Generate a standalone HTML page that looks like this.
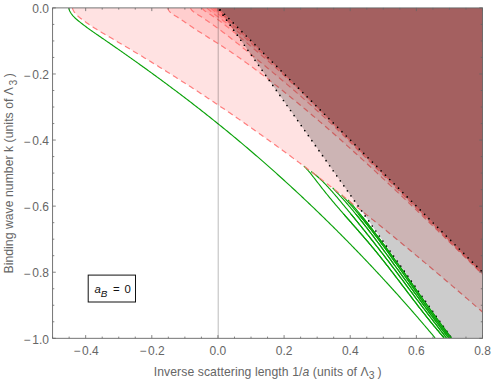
<!DOCTYPE html>
<html><head><meta charset="utf-8"><style>html,body{margin:0;padding:0;background:#fff;width:492px;height:382px;overflow:hidden}svg{display:block}svg text{font-family:"Liberation Sans",sans-serif}</style></head><body>
<svg width="492" height="382" viewBox="0 0 492 382">
<rect width="492" height="382" fill="#fff"/>
<defs><clipPath id="c"><rect x="52.60" y="7.90" width="429.90" height="330.40"/></clipPath></defs>
<g clip-path="url(#c)">
<path d="M72.39 8.05 L72.90 9.49 L73.55 10.83 L74.32 12.09 L75.21 13.27 L76.19 14.39 L77.24 15.46 L78.36 16.47 L79.53 17.46 L80.73 18.41 L81.94 19.34 L83.16 20.26 L84.38 21.16 L85.62 22.06 L86.86 22.93 L88.11 23.80 L89.36 24.66 L90.62 25.50 L91.89 26.34 L93.16 27.16 L94.43 27.98 L95.71 28.79 L96.99 29.59 L98.28 30.38 L99.57 31.17 L100.86 31.95 L102.16 32.73 L103.46 33.50 L104.76 34.27 L106.06 35.04 L107.36 35.80 L108.67 36.57 L109.97 37.33 L111.28 38.09 L112.58 38.85 L113.89 39.61 L115.19 40.37 L116.49 41.14 L117.80 41.90 L119.10 42.67 L120.40 43.43 L121.70 44.20 L123.00 44.97 L124.30 45.74 L125.60 46.51 L126.90 47.28 L128.20 48.05 L129.50 48.83 L130.80 49.60 L132.09 50.38 L133.39 51.15 L134.69 51.93 L135.98 52.71 L137.28 53.49 L138.57 54.27 L139.86 55.05 L141.16 55.83 L142.45 56.61 L143.74 57.40 L145.03 58.18 L146.32 58.97 L147.61 59.76 L148.90 60.54 L150.19 61.33 L151.48 62.12 L152.77 62.92 L154.06 63.71 L155.34 64.50 L156.63 65.29 L157.91 66.09 L159.20 66.89 L160.48 67.68 L161.77 68.48 L163.05 69.28 L164.33 70.08 L165.61 70.88 L166.89 71.68 L168.17 72.49 L169.45 73.29 L170.73 74.10 L172.01 74.90 L173.29 75.71 L174.57 76.52 L175.84 77.33 L177.12 78.14 L178.39 78.95 L179.67 79.76 L180.94 80.58 L182.22 81.39 L183.49 82.21 L184.76 83.02 L186.03 83.84 L187.30 84.66 L188.57 85.48 L189.84 86.30 L191.11 87.12 L192.38 87.95 L193.64 88.77 L194.91 89.59 L196.18 90.42 L197.44 91.25 L198.71 92.08 L199.97 92.91 L201.23 93.74 L202.49 94.57 L203.76 95.40 L205.02 96.23 L206.28 97.07 L207.54 97.90 L208.79 98.74 L210.05 99.58 L211.31 100.41 L212.57 101.25 L213.82 102.10 L215.08 102.94 L216.33 103.78 L217.58 104.62 L218.84 105.47 L220.09 106.31 L221.34 107.16 L222.59 108.01 L223.84 108.86 L225.09 109.71 L226.34 110.56 L227.59 111.41 L228.84 112.26 L230.08 113.11 L231.33 113.97 L232.58 114.82 L233.82 115.68 L235.06 116.54 L236.31 117.40 L237.55 118.26 L238.79 119.12 L240.04 119.98 L241.28 120.84 L242.52 121.70 L243.76 122.57 L244.99 123.43 L246.23 124.30 L247.47 125.17 L248.71 126.04 L249.94 126.90 L251.18 127.77 L252.41 128.64 L253.65 129.52 L254.88 130.39 L256.12 131.26 L257.35 132.14 L258.58 133.01 L259.81 133.89 L261.04 134.77 L262.27 135.64 L263.50 136.52 L264.73 137.40 L265.96 138.28 L267.18 139.17 L268.41 140.05 L269.64 140.93 L270.86 141.82 L272.09 142.70 L273.31 143.59 L274.53 144.47 L275.76 145.36 L276.98 146.25 L278.20 147.14 L279.42 148.03 L280.64 148.92 L281.86 149.81 L283.08 150.71 L284.30 151.60 L285.52 152.50 L286.74 153.39 L287.95 154.29 L289.17 155.18 L290.38 156.08 L291.60 156.98 L292.81 157.88 L294.03 158.78 L295.24 159.68 L296.45 160.58 L297.67 161.49 L298.88 162.39 L300.09 163.30 L301.30 164.20 L302.51 165.11 L303.72 166.01 L304.93 166.92 L306.13 167.83 L307.34 168.74 L308.55 169.65 L309.75 170.56 L310.96 171.47 L312.17 172.38 L313.37 173.30 L314.57 174.21 L315.78 175.13 L316.98 176.04 L318.18 176.96 L319.38 177.88 L320.58 178.79 L321.79 179.71 L322.99 180.63 L324.18 181.55 L325.38 182.47 L326.58 183.39 L327.78 184.32 L328.98 185.24 L330.17 186.16 L331.37 187.09 L332.56 188.01 L333.76 188.94 L334.95 189.86 L336.15 190.79 L337.34 191.72 L338.53 192.65 L339.73 193.58 L340.92 194.51 L342.11 195.44 L343.30 196.37 L344.49 197.30 L345.68 198.23 L346.87 199.17 L348.06 200.10 L349.25 201.04 L350.43 201.97 L351.62 202.91 L352.81 203.85 L353.99 204.78 L355.18 205.72 L356.36 206.66 L357.55 207.60 L358.73 208.54 L359.92 209.48 L361.10 210.42 L362.28 211.37 L363.46 212.31 L364.64 213.25 L365.82 214.20 L367.01 215.14 L368.19 216.09 L369.36 217.03 L370.54 217.98 L371.72 218.93 L372.90 219.87 L374.08 220.82 L375.25 221.77 L376.43 222.72 L377.61 223.67 L378.78 224.62 L379.96 225.57 L381.13 226.53 L382.31 227.48 L383.48 228.43 L384.65 229.39 L385.82 230.34 L387.00 231.30 L388.17 232.25 L389.34 233.21 L390.51 234.16 L391.68 235.12 L392.85 236.08 L394.02 237.04 L395.19 238.00 L396.36 238.96 L397.52 239.92 L398.69 240.88 L399.86 241.84 L401.02 242.80 L402.19 243.76 L403.36 244.72 L404.52 245.69 L405.69 246.65 L406.85 247.62 L408.01 248.58 L409.18 249.55 L410.34 250.51 L411.50 251.48 L412.66 252.45 L413.83 253.41 L414.99 254.38 L416.15 255.35 L417.31 256.32 L418.47 257.29 L419.63 258.26 L420.79 259.23 L421.94 260.20 L423.10 261.17 L424.26 262.14 L425.42 263.12 L426.57 264.09 L427.73 265.06 L428.89 266.04 L430.04 267.01 L431.20 267.99 L432.35 268.96 L433.51 269.94 L434.66 270.91 L435.81 271.89 L436.97 272.87 L438.12 273.84 L439.27 274.82 L440.42 275.80 L441.58 276.78 L442.73 277.76 L443.88 278.74 L445.03 279.72 L446.18 280.70 L447.33 281.68 L448.48 282.66 L449.62 283.64 L450.77 284.62 L451.92 285.61 L453.07 286.59 L454.21 287.57 L455.36 288.56 L456.51 289.54 L457.65 290.53 L458.80 291.51 L459.94 292.50 L461.09 293.48 L462.23 294.47 L463.38 295.45 L464.52 296.44 L465.66 297.43 L466.81 298.42 L467.95 299.40 L469.09 300.39 L470.23 301.38 L471.38 302.37 L472.52 303.36 L473.66 304.35 L474.80 305.34 L475.94 306.33 L477.08 307.32 L478.22 308.31 L479.36 309.30 L480.50 310.29 L481.63 311.29 L482.77 312.28 L484.50 5.90 L72.50 5.90 Z" fill="rgb(255,0,0)" fill-opacity="0.113"/>
<path d="M167.69 8.09 L168.22 9.52 L168.96 10.78 L169.88 11.91 L170.93 12.91 L172.11 13.83 L173.36 14.68 L174.67 15.49 L175.99 16.29 L177.31 17.10 L178.62 17.91 L179.91 18.75 L181.20 19.59 L182.47 20.44 L183.73 21.29 L184.99 22.16 L186.24 23.02 L187.49 23.89 L188.74 24.75 L189.99 25.61 L191.24 26.47 L192.50 27.32 L193.76 28.16 L195.02 28.99 L196.29 29.82 L197.56 30.65 L198.83 31.47 L200.11 32.28 L201.39 33.10 L202.66 33.91 L203.95 34.71 L205.23 35.52 L206.51 36.32 L207.79 37.12 L209.08 37.92 L210.36 38.72 L211.65 39.52 L212.93 40.32 L214.21 41.12 L215.49 41.93 L216.77 42.74 L218.04 43.55 L219.32 44.36 L220.59 45.18 L221.86 46.00 L223.13 46.83 L224.39 47.66 L225.65 48.49 L226.91 49.32 L228.17 50.16 L229.43 51.00 L230.68 51.85 L231.93 52.70 L233.18 53.55 L234.43 54.41 L235.67 55.27 L236.92 56.13 L238.16 56.99 L239.40 57.86 L240.63 58.73 L241.87 59.61 L243.10 60.48 L244.33 61.36 L245.56 62.24 L246.79 63.13 L248.01 64.02 L249.23 64.91 L250.46 65.80 L251.68 66.70 L252.89 67.60 L254.11 68.50 L255.32 69.40 L256.54 70.31 L257.75 71.22 L258.96 72.13 L260.16 73.04 L261.37 73.96 L262.57 74.87 L263.78 75.79 L264.98 76.72 L266.18 77.64 L267.37 78.57 L268.57 79.49 L269.77 80.43 L270.96 81.36 L272.15 82.29 L273.34 83.23 L274.53 84.17 L275.72 85.11 L276.91 86.05 L278.09 86.99 L279.28 87.94 L280.46 88.88 L281.64 89.83 L282.82 90.78 L284.00 91.73 L285.18 92.69 L286.36 93.64 L287.53 94.60 L288.71 95.55 L289.88 96.51 L291.05 97.47 L292.22 98.43 L293.39 99.39 L294.56 100.36 L295.73 101.32 L296.90 102.29 L298.07 103.25 L299.23 104.22 L300.40 105.19 L301.56 106.16 L302.72 107.13 L303.88 108.11 L305.04 109.08 L306.20 110.06 L307.36 111.03 L308.52 112.01 L309.67 112.99 L310.83 113.97 L311.99 114.95 L313.14 115.93 L314.29 116.91 L315.44 117.90 L316.59 118.88 L317.74 119.87 L318.89 120.86 L320.04 121.85 L321.19 122.83 L322.34 123.83 L323.48 124.82 L324.63 125.81 L325.77 126.80 L326.91 127.80 L328.06 128.79 L329.20 129.79 L330.34 130.79 L331.48 131.78 L332.62 132.78 L333.75 133.78 L334.89 134.79 L336.03 135.79 L337.16 136.79 L338.30 137.80 L339.43 138.80 L340.57 139.81 L341.70 140.81 L342.83 141.82 L343.96 142.83 L345.09 143.84 L346.22 144.85 L347.35 145.86 L348.48 146.87 L349.61 147.89 L350.73 148.90 L351.86 149.91 L352.98 150.93 L354.11 151.95 L355.23 152.96 L356.35 153.98 L357.48 155.00 L358.60 156.02 L359.72 157.04 L360.84 158.06 L361.96 159.08 L363.08 160.10 L364.20 161.13 L365.31 162.15 L366.43 163.17 L367.55 164.20 L368.66 165.23 L369.78 166.25 L370.89 167.28 L372.01 168.31 L373.12 169.34 L374.23 170.36 L375.35 171.39 L376.46 172.43 L377.57 173.46 L378.68 174.49 L379.79 175.52 L380.90 176.55 L382.01 177.59 L383.12 178.62 L384.23 179.66 L385.33 180.69 L386.44 181.73 L387.55 182.77 L388.65 183.80 L389.76 184.84 L390.86 185.88 L391.97 186.92 L393.07 187.96 L394.17 189.00 L395.28 190.04 L396.38 191.08 L397.48 192.12 L398.58 193.16 L399.68 194.20 L400.78 195.25 L401.88 196.29 L402.98 197.33 L404.08 198.38 L405.18 199.42 L406.28 200.47 L407.38 201.51 L408.48 202.56 L409.58 203.60 L410.67 204.65 L411.77 205.70 L412.87 206.74 L413.96 207.79 L415.06 208.84 L416.15 209.89 L417.25 210.94 L418.34 211.99 L419.44 213.04 L420.53 214.09 L421.62 215.14 L422.72 216.19 L423.81 217.24 L424.90 218.29 L426.00 219.34 L427.09 220.39 L428.18 221.44 L429.27 222.49 L430.36 223.55 L431.45 224.60 L432.54 225.65 L433.63 226.70 L434.73 227.76 L435.82 228.81 L436.91 229.86 L437.99 230.92 L439.08 231.97 L440.17 233.03 L441.26 234.08 L442.35 235.13 L443.44 236.19 L444.53 237.24 L445.62 238.30 L446.71 239.35 L447.79 240.41 L448.88 241.46 L449.97 242.52 L451.06 243.57 L452.14 244.63 L453.23 245.68 L454.32 246.74 L455.41 247.80 L456.49 248.85 L457.58 249.91 L458.67 250.96 L459.75 252.02 L460.84 253.07 L461.93 254.13 L463.01 255.19 L464.10 256.24 L465.18 257.30 L466.27 258.35 L467.36 259.41 L468.44 260.47 L469.53 261.52 L470.62 262.58 L471.70 263.63 L472.79 264.69 L473.87 265.74 L474.96 266.80 L476.05 267.85 L477.13 268.91 L478.22 269.96 L479.30 271.02 L480.39 272.07 L481.48 273.13 L482.56 274.18 L483.65 275.24 L484.50 5.90 L167.80 5.90 Z" fill="rgb(255,0,0)" fill-opacity="0.085"/>
<path d="M190.50 8.09 L191.18 9.42 L192.10 10.55 L193.19 11.54 L194.41 12.42 L195.69 13.25 L196.99 14.07 L198.29 14.89 L199.58 15.72 L200.87 16.56 L202.16 17.40 L203.43 18.25 L204.71 19.10 L205.98 19.96 L207.25 20.82 L208.51 21.69 L209.76 22.56 L211.02 23.43 L212.27 24.32 L213.51 25.20 L214.75 26.09 L215.99 26.98 L217.22 27.88 L218.45 28.78 L219.68 29.69 L220.90 30.60 L222.12 31.51 L223.34 32.42 L224.55 33.34 L225.76 34.26 L226.97 35.19 L228.18 36.12 L229.38 37.05 L230.58 37.98 L231.78 38.92 L232.98 39.86 L234.17 40.80 L235.36 41.74 L236.55 42.69 L237.74 43.64 L238.93 44.59 L240.11 45.54 L241.30 46.50 L242.48 47.45 L243.66 48.41 L244.84 49.37 L246.02 50.33 L247.20 51.29 L248.37 52.25 L249.55 53.22 L250.73 54.18 L251.90 55.15 L253.08 56.11 L254.25 57.08 L255.43 58.05 L256.60 59.01 L257.78 59.98 L258.95 60.95 L260.13 61.92 L261.30 62.89 L262.48 63.86 L263.65 64.83 L264.82 65.80 L266.00 66.77 L267.17 67.74 L268.34 68.72 L269.51 69.69 L270.69 70.67 L271.86 71.64 L273.03 72.62 L274.20 73.59 L275.37 74.57 L276.54 75.55 L277.71 76.53 L278.87 77.51 L280.04 78.49 L281.21 79.47 L282.37 80.45 L283.54 81.44 L284.70 82.42 L285.87 83.41 L287.03 84.40 L288.19 85.38 L289.35 86.37 L290.51 87.36 L291.67 88.35 L292.83 89.35 L293.99 90.34 L295.15 91.33 L296.30 92.33 L297.46 93.33 L298.61 94.32 L299.76 95.32 L300.91 96.32 L302.06 97.33 L303.21 98.33 L304.36 99.33 L305.51 100.34 L306.65 101.35 L307.79 102.36 L308.94 103.37 L310.08 104.38 L311.22 105.39 L312.36 106.41 L313.49 107.42 L314.63 108.44 L315.76 109.46 L316.89 110.48 L318.02 111.51 L319.15 112.53 L320.28 113.56 L321.41 114.59 L322.53 115.62 L323.65 116.65 L324.77 117.68 L325.89 118.72 L327.01 119.75 L328.12 120.79 L329.24 121.83 L330.35 122.87 L331.46 123.92 L332.56 124.96 L333.67 126.01 L334.77 127.06 L335.88 128.12 L336.97 129.17 L338.07 130.23 L339.17 131.28 L340.26 132.34 L341.35 133.41 L342.44 134.47 L343.53 135.54 L344.61 136.61 L345.69 137.68 L346.77 138.75 L347.85 139.83 L348.93 140.91 L350.00 141.99 L483.60 275.30 L484.50 5.90 L190.60 5.90 Z" fill="rgb(255,0,0)" fill-opacity="0.085"/>
<path d="M202.05 8.10 L202.97 9.23 L204.05 10.24 L205.22 11.16 L206.46 12.04 L207.74 12.89 L209.05 13.71 L210.36 14.54 L211.66 15.37 L212.95 16.22 L214.23 17.07 L215.50 17.94 L216.76 18.82 L218.01 19.71 L219.25 20.61 L220.48 21.51 L221.71 22.43 L222.92 23.35 L224.13 24.28 L225.33 25.22 L226.53 26.16 L227.72 27.11 L228.91 28.07 L230.09 29.02 L231.27 29.99 L232.45 30.95 L233.62 31.92 L234.79 32.89 L235.96 33.87 L237.13 34.84 L238.30 35.82 L239.47 36.80 L240.64 37.77 L241.81 38.75 L242.98 39.72 L244.15 40.70 L245.33 41.68 L246.50 42.66 L247.67 43.63 L248.85 44.61 L250.02 45.59 L251.19 46.57 L252.36 47.55 L253.53 48.53 L254.70 49.52 L255.87 50.50 L257.04 51.49 L258.21 52.48 L259.38 53.46 L260.54 54.46 L261.71 55.45 L262.87 56.44 L264.03 57.44 L265.19 58.44 L266.35 59.44 L267.50 60.44 L268.66 61.44 L269.81 62.45 L270.95 63.46 L272.10 64.47 L273.24 65.49 L274.38 66.51 L275.52 67.53 L276.65 68.56 L277.78 69.58 L278.91 70.62 L280.04 71.65 L281.16 72.69 L282.27 73.73 L283.39 74.78 L284.50 75.83 L285.60 76.88 L286.70 77.94 L287.80 79.00 L288.89 80.07 L289.98 81.14 L291.06 82.21 L292.14 83.29 L293.21 84.38 L294.28 85.47 L483.60 275.30 L484.50 5.90 L202.16 5.90 Z" fill="rgb(255,0,0)" fill-opacity="0.085"/>
<path d="M206.92 8.13 L208.04 9.12 L209.19 10.08 L210.36 11.03 L211.55 11.97 L212.75 12.91 L213.96 13.83 L215.19 14.75 L216.42 15.67 L217.65 16.59 L218.90 17.50 L220.15 18.41 L221.40 19.32 L222.65 20.23 L223.91 21.14 L225.17 22.06 L226.42 22.97 L227.67 23.89 L228.92 24.82 L230.17 25.75 L231.41 26.68 L232.64 27.62 L233.87 28.57 L235.08 29.53 L236.29 30.49 L237.50 31.46 L238.69 32.44 L239.88 33.42 L241.06 34.41 L242.24 35.40 L243.41 36.40 L244.58 37.41 L245.74 38.42 L246.89 39.43 L248.05 40.45 L249.19 41.48 L250.34 42.50 L251.48 43.54 L252.62 44.57 L253.75 45.61 L254.89 46.65 L256.02 47.69 L257.15 48.73 L258.28 49.78 L259.41 50.83 L260.53 51.88 L261.66 52.93 L262.79 53.98 L263.91 55.03 L265.04 56.09 L266.17 57.14 L267.30 58.19 L268.43 59.25 L269.56 60.30 L270.70 61.35 L483.60 275.30 L484.50 5.90 L207.08 5.90 Z" fill="rgb(255,0,0)" fill-opacity="0.085"/>
<path d="M210.58 8.12 L211.80 9.07 L213.04 10.03 L214.28 10.99 L215.52 11.94 L216.77 12.90 L218.02 13.86 L219.27 14.81 L220.53 15.77 L221.79 16.74 L223.05 17.70 L224.30 18.67 L225.56 19.64 L226.82 20.61 L228.08 21.59 L229.33 22.57 L230.58 23.56 L231.83 24.55 L233.07 25.55 L234.31 26.55 L235.54 27.56 L236.77 28.57 L237.99 29.59 L239.21 30.62 L240.41 31.66 L241.61 32.70 L242.80 33.76 L243.98 34.82 L245.15 35.89 L246.30 36.97 L247.45 38.06 L248.59 39.16 L249.71 40.27 L250.82 41.39 L251.91 42.52 L252.99 43.67 L483.60 275.30 L484.50 5.90 L210.72 5.90 Z" fill="rgb(255,0,0)" fill-opacity="0.085"/>
<path d="M213.05 8.08 L214.30 9.05 L215.55 10.02 L216.82 10.99 L218.09 11.96 L219.36 12.93 L220.63 13.91 L221.91 14.89 L223.19 15.87 L224.46 16.86 L225.73 17.86 L227.00 18.86 L228.26 19.87 L229.52 20.89 L230.76 21.92 L232.00 22.96 L233.22 24.01 L234.43 25.08 L235.62 26.16 L236.80 27.25 L237.96 28.36 L239.11 29.48 L240.23 30.62 L241.33 31.78 L483.60 275.30 L484.50 5.90 L213.15 5.90 Z" fill="rgb(255,0,0)" fill-opacity="0.085"/>
<path d="M214.70 8.05 L215.53 8.70 L216.37 9.35 L217.21 9.99 L218.06 10.64 L218.91 11.29 L219.76 11.94 L220.61 12.59 L221.46 13.25 L222.31 13.91 L223.16 14.57 L224.00 15.24 L224.84 15.91 L225.68 16.59 L226.51 17.28 L227.33 17.97 L228.15 18.68 L228.95 19.39 L229.75 20.10 L230.54 20.83 L231.31 21.57 L232.07 22.32 L232.82 23.08 L233.55 23.85 L483.60 275.30 L484.50 5.90 L214.76 5.90 Z" fill="rgb(255,0,0)" fill-opacity="0.085"/>
<path d="M68.73 8.07 L69.15 9.54 L69.71 10.94 L70.38 12.25 L71.16 13.50 L72.03 14.69 L72.99 15.83 L74.01 16.92 L75.08 17.97 L76.20 18.99 L77.35 19.98 L78.51 20.96 L79.68 21.92 L80.87 22.88 L82.06 23.82 L83.26 24.75 L84.47 25.66 L85.68 26.57 L86.90 27.48 L88.13 28.37 L89.36 29.26 L90.60 30.14 L91.85 31.01 L93.09 31.88 L94.34 32.75 L95.59 33.61 L96.84 34.47 L98.10 35.33 L99.35 36.19 L100.60 37.05 L101.86 37.91 L103.11 38.77 L104.36 39.63 L105.61 40.50 L106.86 41.36 L108.12 42.22 L109.36 43.09 L110.61 43.95 L111.86 44.82 L113.11 45.68 L114.36 46.55 L115.60 47.42 L116.85 48.28 L118.09 49.15 L119.34 50.02 L120.58 50.89 L121.83 51.76 L123.07 52.63 L124.31 53.51 L125.55 54.38 L126.79 55.25 L128.03 56.13 L129.27 57.00 L130.51 57.88 L131.75 58.76 L132.98 59.64 L134.22 60.51 L135.46 61.39 L136.69 62.27 L137.93 63.15 L139.16 64.04 L140.39 64.92 L141.62 65.80 L142.86 66.69 L144.09 67.57 L145.32 68.46 L146.55 69.34 L147.77 70.23 L149.00 71.12 L150.23 72.01 L151.46 72.90 L152.68 73.79 L153.91 74.68 L155.13 75.58 L156.35 76.47 L157.58 77.37 L158.80 78.26 L160.02 79.16 L161.24 80.06 L162.46 80.96 L163.68 81.86 L164.89 82.76 L166.11 83.66 L167.33 84.56 L168.54 85.46 L169.76 86.37 L170.97 87.27 L172.18 88.18 L173.40 89.09 L174.61 90.00 L175.82 90.91 L177.03 91.82 L178.24 92.73 L179.44 93.64 L180.65 94.55 L181.86 95.47 L183.06 96.38 L184.27 97.30 L185.47 98.22 L186.67 99.14 L187.87 100.06 L189.08 100.98 L190.28 101.90 L191.48 102.82 L192.67 103.75 L193.87 104.67 L195.07 105.60 L196.26 106.53 L197.46 107.46 L198.65 108.39 L199.85 109.32 L201.04 110.25 L202.23 111.18 L203.42 112.12 L204.61 113.05 L205.80 113.99 L206.98 114.93 L208.17 115.87 L209.36 116.81 L210.54 117.75 L211.73 118.69 L212.91 119.64 L214.09 120.58 L215.27 121.53 L216.45 122.48 L217.63 123.43 L218.81 124.38 L219.98 125.33 L221.16 126.28 L222.34 127.24 L223.51 128.19 L224.68 129.15 L225.86 130.11 L227.03 131.06 L228.20 132.02 L229.37 132.99 L230.53 133.95 L231.70 134.91 L232.87 135.88 L234.03 136.84 L235.20 137.81 L236.36 138.78 L237.52 139.75 L238.69 140.72 L239.85 141.69 L241.01 142.67 L242.16 143.64 L243.32 144.62 L244.48 145.60 L245.63 146.58 L246.79 147.56 L247.94 148.54 L249.09 149.52 L250.25 150.50 L251.40 151.49 L252.55 152.47 L253.69 153.46 L254.84 154.45 L255.99 155.44 L257.13 156.43 L258.28 157.42 L259.42 158.41 L260.57 159.40 L261.71 160.40 L262.85 161.40 L263.99 162.39 L265.13 163.39 L266.26 164.39 L267.40 165.39 L268.54 166.40 L269.67 167.40 L270.81 168.40 L271.94 169.41 L273.07 170.42 L274.20 171.42 L275.33 172.43 L276.46 173.44 L277.59 174.45 L278.71 175.47 L279.84 176.48 L280.96 177.50 L282.09 178.51 L283.21 179.53 L284.33 180.55 L285.45 181.57 L286.57 182.59 L287.69 183.61 L288.81 184.63 L289.93 185.65 L291.04 186.68 L292.16 187.71 L293.27 188.73 L294.38 189.76 L295.50 190.79 L296.61 191.82 L297.72 192.85 L298.82 193.89 L299.93 194.92 L301.04 195.95 L302.14 196.99 L303.25 198.03 L304.35 199.07 L305.46 200.11 L306.56 201.15 L307.66 202.19 L308.76 203.23 L309.86 204.27 L310.95 205.32 L312.05 206.36 L313.15 207.41 L314.24 208.46 L315.33 209.51 L316.43 210.56 L317.52 211.61 L318.61 212.66 L319.70 213.72 L320.79 214.77 L321.87 215.83 L322.96 216.88 L324.05 217.94 L325.13 219.00 L326.21 220.06 L327.30 221.12 L328.38 222.18 L329.46 223.24 L330.54 224.31 L331.61 225.37 L332.69 226.44 L333.77 227.51 L334.84 228.57 L335.92 229.64 L336.99 230.71 L338.06 231.79 L339.13 232.86 L340.20 233.93 L341.27 235.01 L342.34 236.08 L343.41 237.16 L344.47 238.23 L345.54 239.31 L346.60 240.39 L347.66 241.47 L348.72 242.55 L349.79 243.64 L350.84 244.72 L351.90 245.81 L352.96 246.89 L354.02 247.98 L355.07 249.06 L356.13 250.15 L357.18 251.24 L358.23 252.33 L359.28 253.42 L360.33 254.52 L361.38 255.61 L362.43 256.71 L363.48 257.80 L364.52 258.90 L365.57 259.99 L366.61 261.09 L367.66 262.19 L368.70 263.29 L369.74 264.39 L370.78 265.50 L371.82 266.60 L372.86 267.70 L373.89 268.81 L374.93 269.91 L375.96 271.02 L377.00 272.13 L378.03 273.24 L379.06 274.35 L380.09 275.46 L381.12 276.57 L382.15 277.68 L383.17 278.80 L384.20 279.91 L385.23 281.03 L386.25 282.15 L387.27 283.26 L388.29 284.38 L389.32 285.50 L390.34 286.62 L391.35 287.74 L392.37 288.86 L393.39 289.99 L394.40 291.11 L395.42 292.24 L396.43 293.36 L397.44 294.49 L398.46 295.62 L399.47 296.75 L400.47 297.88 L401.48 299.01 L402.49 300.14 L403.50 301.27 L404.50 302.40 L405.50 303.54 L406.51 304.67 L407.51 305.81 L408.51 306.94 L409.51 308.08 L410.51 309.22 L411.50 310.36 L412.50 311.50 L413.50 312.64 L414.49 313.78 L415.48 314.93 L416.48 316.07 L417.47 317.21 L418.46 318.36 L419.45 319.51 L420.43 320.65 L421.42 321.80 L422.41 322.95 L423.39 324.10 L424.37 325.25 L425.36 326.40 L426.34 327.56 L427.32 328.71 L428.30 329.86 L429.27 331.02 L430.25 332.17 L431.23 333.33 L432.20 334.49 L433.18 335.65 L434.15 336.81 L435.12 337.97" fill="none" stroke="#0aa20a" stroke-width="1.15"/>
<path d="M303.84 166.05 L304.93 167.10 L305.99 168.18 L307.02 169.29 L308.03 170.42 L309.02 171.57 L309.99 172.73 L310.94 173.91 L311.89 175.09 L312.83 176.29 L313.76 177.49 L314.69 178.69 L315.62 179.89 L316.55 181.10 L317.48 182.31 L318.41 183.51 L319.34 184.72 L320.27 185.92 L321.20 187.12 L322.14 188.32 L323.09 189.51 L324.03 190.70 L324.99 191.89 L325.94 193.08 L326.90 194.26 L327.86 195.43 L328.83 196.61 L329.80 197.78 L330.77 198.95 L331.74 200.12 L332.72 201.29 L333.70 202.45 L334.68 203.61 L335.67 204.77 L336.65 205.92 L337.64 207.08 L338.63 208.23 L339.63 209.38 L340.62 210.54 L341.62 211.68 L342.61 212.83 L343.61 213.98 L344.61 215.13 L345.61 216.27 L346.61 217.41 L347.61 218.56 L348.62 219.70 L349.62 220.84 L350.62 221.99 L351.63 223.13 L352.63 224.27 L353.63 225.41 L354.64 226.56 L355.64 227.70 L356.64 228.84 L357.64 229.99 L358.64 231.13 L359.64 232.28 L360.64 233.42 L361.63 234.57 L362.63 235.72 L363.62 236.87 L364.62 238.02 L365.61 239.17 L366.60 240.32 L367.58 241.48 L368.57 242.64 L369.55 243.80 L370.53 244.96 L371.50 246.12 L372.48 247.29 L373.45 248.46 L374.42 249.63 L375.38 250.80 L376.34 251.97 L377.30 253.15 L378.26 254.33 L379.22 255.51 L380.17 256.70 L381.12 257.88 L382.06 259.07 L383.01 260.26 L383.95 261.45 L384.89 262.65 L385.83 263.84 L386.77 265.04 L387.71 266.23 L388.64 267.43 L389.57 268.63 L390.50 269.84 L391.43 271.04 L392.36 272.24 L393.29 273.45 L394.21 274.65 L395.14 275.86 L396.06 277.07 L396.98 278.27 L397.91 279.48 L398.83 280.69 L399.75 281.90 L400.67 283.11 L401.59 284.32 L402.51 285.53 L403.43 286.74 L404.35 287.95 L405.27 289.16 L406.19 290.37 L407.11 291.58 L408.03 292.80 L408.95 294.01 L409.87 295.22 L410.80 296.42 L411.72 297.63 L412.64 298.84 L413.57 300.05 L414.49 301.26 L415.42 302.46 L416.34 303.67 L417.27 304.87 L418.20 306.07 L419.13 307.28 L420.07 308.48 L421.00 309.68 L421.94 310.88 L422.87 312.07 L423.81 313.27 L424.75 314.46 L425.70 315.65 L426.64 316.84 L427.59 318.03 L428.54 319.22 L429.49 320.40 L430.45 321.59 L431.40 322.77 L432.37 323.95 L433.33 325.12 L434.29 326.30 L435.26 327.47 L436.23 328.64 L437.21 329.81 L438.19 330.97 L439.17 332.13 L440.15 333.29 L441.14 334.45 L442.13 335.60 L443.13 336.75 L444.13 337.90" fill="none" stroke="#0aa20a" stroke-width="1.15"/>
<path d="M311.15 171.52 L312.37 172.44 L313.57 173.37 L314.76 174.33 L315.93 175.30 L317.09 176.28 L318.23 177.29 L319.36 178.30 L320.47 179.34 L321.57 180.38 L322.66 181.44 L323.73 182.51 L324.80 183.60 L325.86 184.69 L326.90 185.80 L327.94 186.91 L328.97 188.03 L329.99 189.16 L331.00 190.30 L332.01 191.44 L333.02 192.59 L334.01 193.75 L335.01 194.91 L336.00 196.07 L336.98 197.24 L337.97 198.40 L338.95 199.57 L339.93 200.74 L340.91 201.91 L341.89 203.09 L342.87 204.26 L343.85 205.43 L344.82 206.61 L345.80 207.78 L346.77 208.96 L347.75 210.13 L348.72 211.31 L349.69 212.49 L350.66 213.66 L351.63 214.84 L352.59 216.02 L353.56 217.20 L354.53 218.39 L355.49 219.57 L356.45 220.75 L357.41 221.93 L358.38 223.12 L359.33 224.30 L360.29 225.49 L361.25 226.68 L362.21 227.87 L363.16 229.05 L364.12 230.24 L365.07 231.43 L366.02 232.62 L366.97 233.82 L367.92 235.01 L368.87 236.20 L369.82 237.40 L370.76 238.59 L371.71 239.79 L372.65 240.98 L373.59 242.18 L374.54 243.38 L375.48 244.58 L376.41 245.78 L377.35 246.98 L378.29 248.18 L379.22 249.38 L380.16 250.59 L381.09 251.79 L382.02 253.00 L382.95 254.20 L383.88 255.41 L384.81 256.62 L385.74 257.83 L386.66 259.04 L387.59 260.25 L388.51 261.46 L389.43 262.67 L390.35 263.88 L391.27 265.10 L392.19 266.31 L393.11 267.53 L394.02 268.74 L394.94 269.96 L395.85 271.18 L396.76 272.40 L397.68 273.62 L398.59 274.84 L399.50 276.06 L400.40 277.29 L401.31 278.51 L402.22 279.73 L403.13 280.95 L404.03 282.18 L404.94 283.40 L405.85 284.62 L406.75 285.85 L407.66 287.07 L408.57 288.30 L409.47 289.52 L410.38 290.74 L411.29 291.96 L412.20 293.19 L413.11 294.41 L414.02 295.63 L414.93 296.85 L415.84 298.07 L416.75 299.29 L417.67 300.51 L418.58 301.72 L419.50 302.94 L420.42 304.15 L421.34 305.37 L422.26 306.58 L423.18 307.80 L424.10 309.01 L425.02 310.22 L425.95 311.43 L426.87 312.64 L427.80 313.85 L428.73 315.06 L429.65 316.27 L430.58 317.48 L431.51 318.69 L432.44 319.89 L433.37 321.10 L434.30 322.31 L435.24 323.51 L436.17 324.72 L437.10 325.92 L438.03 327.13 L438.97 328.33 L439.90 329.54 L440.83 330.74 L441.77 331.95 L442.70 333.15 L443.64 334.36 L444.57 335.56 L445.51 336.76 L446.44 337.97" fill="none" stroke="#0aa20a" stroke-width="1.15"/>
<path d="M332.60 187.86 L333.65 188.95 L334.70 190.04 L335.74 191.14 L336.78 192.25 L337.81 193.35 L338.84 194.47 L339.87 195.58 L340.89 196.70 L341.90 197.83 L342.92 198.95 L343.92 200.09 L344.93 201.22 L345.93 202.36 L346.92 203.50 L347.91 204.65 L348.90 205.80 L349.89 206.95 L350.87 208.11 L351.84 209.27 L352.82 210.43 L353.79 211.60 L354.76 212.77 L355.72 213.94 L356.68 215.11 L357.64 216.29 L358.59 217.47 L359.54 218.65 L360.49 219.84 L361.44 221.03 L362.38 222.22 L363.32 223.41 L364.26 224.61 L365.20 225.80 L366.13 227.00 L367.06 228.20 L367.99 229.40 L368.92 230.61 L369.84 231.82 L370.77 233.02 L371.69 234.23 L372.61 235.44 L373.52 236.66 L374.44 237.87 L375.35 239.09 L376.27 240.30 L377.18 241.52 L378.09 242.74 L378.99 243.96 L379.90 245.18 L380.81 246.40 L381.71 247.62 L382.62 248.85 L383.52 250.07 L384.42 251.29 L385.32 252.52 L386.22 253.74 L387.12 254.97 L388.02 256.19 L388.92 257.42 L389.82 258.65 L390.72 259.88 L391.61 261.10 L392.51 262.33 L393.40 263.56 L394.30 264.79 L395.19 266.02 L396.09 267.25 L396.98 268.48 L397.87 269.71 L398.77 270.94 L399.66 272.16 L400.55 273.39 L401.44 274.62 L402.34 275.85 L403.23 277.08 L404.12 278.31 L405.01 279.54 L405.91 280.77 L406.80 282.00 L407.69 283.23 L408.58 284.46 L409.48 285.69 L410.37 286.92 L411.26 288.15 L412.16 289.38 L413.05 290.60 L413.94 291.83 L414.84 293.06 L415.73 294.28 L416.63 295.51 L417.53 296.74 L418.42 297.96 L419.32 299.19 L420.22 300.41 L421.12 301.63 L422.02 302.86 L422.92 304.08 L423.82 305.30 L424.72 306.52 L425.62 307.74 L426.52 308.96 L427.43 310.18 L428.33 311.40 L429.24 312.61 L430.15 313.83 L431.06 315.04 L431.97 316.26 L432.88 317.47 L433.79 318.68 L434.70 319.90 L435.62 321.11 L436.54 322.31 L437.45 323.52 L438.37 324.73 L439.29 325.93 L440.21 327.14 L441.14 328.34 L442.06 329.54 L442.99 330.74 L443.92 331.94 L444.85 333.14 L445.78 334.34 L446.71 335.53 L447.65 336.73 L448.59 337.92" fill="none" stroke="#0aa20a" stroke-width="1.15"/>
<path d="M341.70 194.94 L342.74 196.05 L343.77 197.17 L344.79 198.29 L345.81 199.42 L346.83 200.55 L347.85 201.68 L348.86 202.81 L349.86 203.95 L350.86 205.10 L351.86 206.24 L352.86 207.39 L353.85 208.54 L354.83 209.70 L355.82 210.85 L356.80 212.02 L357.77 213.18 L358.75 214.35 L359.71 215.52 L360.68 216.69 L361.64 217.86 L362.60 219.04 L363.56 220.22 L364.51 221.41 L365.46 222.59 L366.41 223.78 L367.36 224.97 L368.30 226.16 L369.24 227.36 L370.17 228.56 L371.11 229.76 L372.04 230.96 L372.96 232.16 L373.89 233.37 L374.81 234.58 L375.74 235.79 L376.65 237.00 L377.57 238.21 L378.49 239.43 L379.40 240.64 L380.31 241.86 L381.22 243.08 L382.12 244.31 L383.03 245.53 L383.93 246.75 L384.83 247.98 L385.73 249.21 L386.63 250.44 L387.53 251.67 L388.42 252.90 L389.32 254.13 L390.21 255.37 L391.10 256.60 L391.99 257.84 L392.88 259.07 L393.76 260.31 L394.65 261.55 L395.54 262.79 L396.42 264.03 L397.30 265.27 L398.19 266.51 L399.07 267.76 L399.95 269.00 L400.83 270.24 L401.71 271.49 L402.59 272.73 L403.47 273.97 L404.35 275.22 L405.23 276.46 L406.11 277.71 L406.98 278.95 L407.86 280.20 L408.74 281.44 L409.62 282.69 L410.49 283.93 L411.37 285.18 L412.25 286.42 L413.13 287.67 L414.01 288.91 L414.89 290.15 L415.77 291.40 L416.65 292.64 L417.53 293.88 L418.41 295.12 L419.29 296.37 L420.17 297.61 L421.06 298.85 L421.94 300.08 L422.82 301.32 L423.71 302.56 L424.60 303.80 L425.49 305.03 L426.37 306.27 L427.26 307.50 L428.16 308.73 L429.05 309.96 L429.94 311.19 L430.84 312.42 L431.74 313.65 L432.64 314.87 L433.54 316.10 L434.44 317.32 L435.34 318.54 L436.25 319.76 L437.15 320.98 L438.06 322.20 L438.98 323.41 L439.89 324.62 L440.80 325.83 L441.72 327.04 L442.64 328.25 L443.56 329.46 L444.49 330.66 L445.42 331.86 L446.34 333.06 L447.28 334.25 L448.21 335.45 L449.15 336.64 L450.09 337.83" fill="none" stroke="#0aa20a" stroke-width="1.15"/>
<path d="M348.09 199.97 L349.09 201.12 L350.10 202.27 L351.09 203.42 L352.09 204.58 L353.08 205.74 L354.07 206.90 L355.06 208.06 L356.04 209.23 L357.02 210.40 L357.99 211.57 L358.97 212.74 L359.94 213.92 L360.90 215.09 L361.87 216.27 L362.83 217.46 L363.79 218.64 L364.74 219.83 L365.70 221.02 L366.65 222.21 L367.60 223.41 L368.54 224.60 L369.48 225.80 L370.42 227.00 L371.36 228.20 L372.30 229.40 L373.23 230.61 L374.16 231.82 L375.09 233.03 L376.02 234.24 L376.94 235.45 L377.87 236.66 L378.79 237.88 L379.71 239.10 L380.62 240.32 L381.54 241.54 L382.45 242.76 L383.36 243.98 L384.27 245.21 L385.18 246.43 L386.09 247.66 L386.99 248.89 L387.90 250.12 L388.80 251.35 L389.70 252.58 L390.60 253.81 L391.50 255.04 L392.39 256.28 L393.29 257.51 L394.18 258.75 L395.08 259.99 L395.97 261.23 L396.86 262.47 L397.75 263.71 L398.64 264.95 L399.53 266.19 L400.42 267.43 L401.31 268.67 L402.19 269.91 L403.08 271.16 L403.96 272.40 L404.85 273.65 L405.73 274.89 L406.62 276.14 L407.50 277.38 L408.38 278.63 L409.27 279.87 L410.15 281.12 L411.03 282.36 L411.91 283.61 L412.79 284.86 L413.68 286.10 L414.56 287.35 L415.44 288.59 L416.32 289.84 L417.20 291.08 L418.09 292.33 L418.97 293.58 L419.85 294.82 L420.74 296.06 L421.62 297.31 L422.50 298.55 L423.39 299.80 L424.27 301.04 L425.16 302.28 L426.05 303.52 L426.93 304.76 L427.82 306.00 L428.71 307.24 L429.60 308.48 L430.49 309.72 L431.38 310.96 L432.27 312.19 L433.17 313.43 L434.06 314.66 L434.96 315.90 L435.85 317.13 L436.75 318.36 L437.65 319.59 L438.55 320.82 L439.45 322.05 L440.36 323.28 L441.26 324.50 L442.17 325.73 L443.08 326.95 L443.99 328.17 L444.90 329.39 L445.81 330.61 L446.73 331.83 L447.64 333.04 L448.56 334.26 L449.48 335.47 L450.40 336.68 L451.33 337.89" fill="none" stroke="#0aa20a" stroke-width="1.15"/>
<path d="M72.39 8.05 L72.90 9.49 L73.55 10.83 L74.32 12.09 L75.21 13.27 L76.19 14.39 L77.24 15.46 L78.36 16.47 L79.53 17.46 L80.73 18.41 L81.94 19.34 L83.16 20.26 L84.38 21.16 L85.62 22.06 L86.86 22.93 L88.11 23.80 L89.36 24.66 L90.62 25.50 L91.89 26.34 L93.16 27.16 L94.43 27.98 L95.71 28.79 L96.99 29.59 L98.28 30.38 L99.57 31.17 L100.86 31.95 L102.16 32.73 L103.46 33.50 L104.76 34.27 L106.06 35.04 L107.36 35.80 L108.67 36.57 L109.97 37.33 L111.28 38.09 L112.58 38.85 L113.89 39.61 L115.19 40.37 L116.49 41.14 L117.80 41.90 L119.10 42.67 L120.40 43.43 L121.70 44.20 L123.00 44.97 L124.30 45.74 L125.60 46.51 L126.90 47.28 L128.20 48.05 L129.50 48.83 L130.80 49.60 L132.09 50.38 L133.39 51.15 L134.69 51.93 L135.98 52.71 L137.28 53.49 L138.57 54.27 L139.86 55.05 L141.16 55.83 L142.45 56.61 L143.74 57.40 L145.03 58.18 L146.32 58.97 L147.61 59.76 L148.90 60.54 L150.19 61.33 L151.48 62.12 L152.77 62.92 L154.06 63.71 L155.34 64.50 L156.63 65.29 L157.91 66.09 L159.20 66.89 L160.48 67.68 L161.77 68.48 L163.05 69.28 L164.33 70.08 L165.61 70.88 L166.89 71.68 L168.17 72.49 L169.45 73.29 L170.73 74.10 L172.01 74.90 L173.29 75.71 L174.57 76.52 L175.84 77.33 L177.12 78.14 L178.39 78.95 L179.67 79.76 L180.94 80.58 L182.22 81.39 L183.49 82.21 L184.76 83.02 L186.03 83.84 L187.30 84.66 L188.57 85.48 L189.84 86.30 L191.11 87.12 L192.38 87.95 L193.64 88.77 L194.91 89.59 L196.18 90.42 L197.44 91.25 L198.71 92.08 L199.97 92.91 L201.23 93.74 L202.49 94.57 L203.76 95.40 L205.02 96.23 L206.28 97.07 L207.54 97.90 L208.79 98.74 L210.05 99.58 L211.31 100.41 L212.57 101.25 L213.82 102.10 L215.08 102.94 L216.33 103.78 L217.58 104.62 L218.84 105.47 L220.09 106.31 L221.34 107.16 L222.59 108.01 L223.84 108.86 L225.09 109.71 L226.34 110.56 L227.59 111.41 L228.84 112.26 L230.08 113.11 L231.33 113.97 L232.58 114.82 L233.82 115.68 L235.06 116.54 L236.31 117.40 L237.55 118.26 L238.79 119.12 L240.04 119.98 L241.28 120.84 L242.52 121.70 L243.76 122.57 L244.99 123.43 L246.23 124.30 L247.47 125.17 L248.71 126.04 L249.94 126.90 L251.18 127.77 L252.41 128.64 L253.65 129.52 L254.88 130.39 L256.12 131.26 L257.35 132.14 L258.58 133.01 L259.81 133.89 L261.04 134.77 L262.27 135.64 L263.50 136.52 L264.73 137.40 L265.96 138.28 L267.18 139.17 L268.41 140.05 L269.64 140.93 L270.86 141.82 L272.09 142.70 L273.31 143.59 L274.53 144.47 L275.76 145.36 L276.98 146.25 L278.20 147.14 L279.42 148.03 L280.64 148.92 L281.86 149.81 L283.08 150.71 L284.30 151.60 L285.52 152.50 L286.74 153.39 L287.95 154.29 L289.17 155.18 L290.38 156.08 L291.60 156.98 L292.81 157.88 L294.03 158.78 L295.24 159.68 L296.45 160.58 L297.67 161.49 L298.88 162.39 L300.09 163.30 L301.30 164.20 L302.51 165.11 L303.72 166.01 L304.93 166.92 L306.13 167.83 L307.34 168.74 L308.55 169.65 L309.75 170.56 L310.96 171.47 L312.17 172.38 L313.37 173.30 L314.57 174.21 L315.78 175.13 L316.98 176.04 L318.18 176.96 L319.38 177.88 L320.58 178.79 L321.79 179.71 L322.99 180.63 L324.18 181.55 L325.38 182.47 L326.58 183.39 L327.78 184.32 L328.98 185.24 L330.17 186.16 L331.37 187.09 L332.56 188.01 L333.76 188.94 L334.95 189.86 L336.15 190.79 L337.34 191.72 L338.53 192.65 L339.73 193.58 L340.92 194.51 L342.11 195.44 L343.30 196.37 L344.49 197.30 L345.68 198.23 L346.87 199.17 L348.06 200.10 L349.25 201.04 L350.43 201.97 L351.62 202.91 L352.81 203.85 L353.99 204.78 L355.18 205.72 L356.36 206.66 L357.55 207.60 L358.73 208.54 L359.92 209.48 L361.10 210.42 L362.28 211.37 L363.46 212.31 L364.64 213.25 L365.82 214.20 L367.01 215.14 L368.19 216.09 L369.36 217.03 L370.54 217.98 L371.72 218.93 L372.90 219.87 L374.08 220.82 L375.25 221.77 L376.43 222.72 L377.61 223.67 L378.78 224.62 L379.96 225.57 L381.13 226.53 L382.31 227.48 L383.48 228.43 L384.65 229.39 L385.82 230.34 L387.00 231.30 L388.17 232.25 L389.34 233.21 L390.51 234.16 L391.68 235.12 L392.85 236.08 L394.02 237.04 L395.19 238.00 L396.36 238.96 L397.52 239.92 L398.69 240.88 L399.86 241.84 L401.02 242.80 L402.19 243.76 L403.36 244.72 L404.52 245.69 L405.69 246.65 L406.85 247.62 L408.01 248.58 L409.18 249.55 L410.34 250.51 L411.50 251.48 L412.66 252.45 L413.83 253.41 L414.99 254.38 L416.15 255.35 L417.31 256.32 L418.47 257.29 L419.63 258.26 L420.79 259.23 L421.94 260.20 L423.10 261.17 L424.26 262.14 L425.42 263.12 L426.57 264.09 L427.73 265.06 L428.89 266.04 L430.04 267.01 L431.20 267.99 L432.35 268.96 L433.51 269.94 L434.66 270.91 L435.81 271.89 L436.97 272.87 L438.12 273.84 L439.27 274.82 L440.42 275.80 L441.58 276.78 L442.73 277.76 L443.88 278.74 L445.03 279.72 L446.18 280.70 L447.33 281.68 L448.48 282.66 L449.62 283.64 L450.77 284.62 L451.92 285.61 L453.07 286.59 L454.21 287.57 L455.36 288.56 L456.51 289.54 L457.65 290.53 L458.80 291.51 L459.94 292.50 L461.09 293.48 L462.23 294.47 L463.38 295.45 L464.52 296.44 L465.66 297.43 L466.81 298.42 L467.95 299.40 L469.09 300.39 L470.23 301.38 L471.38 302.37 L472.52 303.36 L473.66 304.35 L474.80 305.34 L475.94 306.33 L477.08 307.32 L478.22 308.31 L479.36 309.30 L480.50 310.29 L481.63 311.29 L482.77 312.28" fill="none" stroke="rgb(255,112,112)" stroke-opacity="0.9" stroke-width="1.2" stroke-dasharray="5.6 3.8"/>
<path d="M167.69 8.09 L168.22 9.52 L168.96 10.78 L169.88 11.91 L170.93 12.91 L172.11 13.83 L173.36 14.68 L174.67 15.49 L175.99 16.29 L177.31 17.10 L178.62 17.91 L179.91 18.75 L181.20 19.59 L182.47 20.44 L183.73 21.29 L184.99 22.16 L186.24 23.02 L187.49 23.89 L188.74 24.75 L189.99 25.61 L191.24 26.47 L192.50 27.32 L193.76 28.16 L195.02 28.99 L196.29 29.82 L197.56 30.65 L198.83 31.47 L200.11 32.28 L201.39 33.10 L202.66 33.91 L203.95 34.71 L205.23 35.52 L206.51 36.32 L207.79 37.12 L209.08 37.92 L210.36 38.72 L211.65 39.52 L212.93 40.32 L214.21 41.12 L215.49 41.93 L216.77 42.74 L218.04 43.55 L219.32 44.36 L220.59 45.18 L221.86 46.00 L223.13 46.83 L224.39 47.66 L225.65 48.49 L226.91 49.32 L228.17 50.16 L229.43 51.00 L230.68 51.85 L231.93 52.70 L233.18 53.55 L234.43 54.41 L235.67 55.27 L236.92 56.13 L238.16 56.99 L239.40 57.86 L240.63 58.73 L241.87 59.61 L243.10 60.48 L244.33 61.36 L245.56 62.24 L246.79 63.13 L248.01 64.02 L249.23 64.91 L250.46 65.80 L251.68 66.70 L252.89 67.60 L254.11 68.50 L255.32 69.40 L256.54 70.31 L257.75 71.22 L258.96 72.13 L260.16 73.04 L261.37 73.96 L262.57 74.87 L263.78 75.79 L264.98 76.72 L266.18 77.64 L267.37 78.57 L268.57 79.49 L269.77 80.43 L270.96 81.36 L272.15 82.29 L273.34 83.23 L274.53 84.17 L275.72 85.11 L276.91 86.05 L278.09 86.99 L279.28 87.94 L280.46 88.88 L281.64 89.83 L282.82 90.78 L284.00 91.73 L285.18 92.69 L286.36 93.64 L287.53 94.60 L288.71 95.55 L289.88 96.51 L291.05 97.47 L292.22 98.43 L293.39 99.39 L294.56 100.36 L295.73 101.32 L296.90 102.29 L298.07 103.25 L299.23 104.22 L300.40 105.19 L301.56 106.16 L302.72 107.13 L303.88 108.11 L305.04 109.08 L306.20 110.06 L307.36 111.03 L308.52 112.01 L309.67 112.99 L310.83 113.97 L311.99 114.95 L313.14 115.93 L314.29 116.91 L315.44 117.90 L316.59 118.88 L317.74 119.87 L318.89 120.86 L320.04 121.85 L321.19 122.83 L322.34 123.83 L323.48 124.82 L324.63 125.81 L325.77 126.80 L326.91 127.80 L328.06 128.79 L329.20 129.79 L330.34 130.79 L331.48 131.78 L332.62 132.78 L333.75 133.78 L334.89 134.79 L336.03 135.79 L337.16 136.79 L338.30 137.80 L339.43 138.80 L340.57 139.81 L341.70 140.81 L342.83 141.82 L343.96 142.83 L345.09 143.84 L346.22 144.85 L347.35 145.86 L348.48 146.87 L349.61 147.89 L350.73 148.90 L351.86 149.91 L352.98 150.93 L354.11 151.95 L355.23 152.96 L356.35 153.98 L357.48 155.00 L358.60 156.02 L359.72 157.04 L360.84 158.06 L361.96 159.08 L363.08 160.10 L364.20 161.13 L365.31 162.15 L366.43 163.17 L367.55 164.20 L368.66 165.23 L369.78 166.25 L370.89 167.28 L372.01 168.31 L373.12 169.34 L374.23 170.36 L375.35 171.39 L376.46 172.43 L377.57 173.46 L378.68 174.49 L379.79 175.52 L380.90 176.55 L382.01 177.59 L383.12 178.62 L384.23 179.66 L385.33 180.69 L386.44 181.73 L387.55 182.77 L388.65 183.80 L389.76 184.84 L390.86 185.88 L391.97 186.92 L393.07 187.96 L394.17 189.00 L395.28 190.04 L396.38 191.08 L397.48 192.12 L398.58 193.16 L399.68 194.20 L400.78 195.25 L401.88 196.29 L402.98 197.33 L404.08 198.38 L405.18 199.42 L406.28 200.47 L407.38 201.51 L408.48 202.56 L409.58 203.60 L410.67 204.65 L411.77 205.70 L412.87 206.74 L413.96 207.79 L415.06 208.84 L416.15 209.89 L417.25 210.94 L418.34 211.99 L419.44 213.04 L420.53 214.09 L421.62 215.14 L422.72 216.19 L423.81 217.24 L424.90 218.29 L426.00 219.34 L427.09 220.39 L428.18 221.44 L429.27 222.49 L430.36 223.55 L431.45 224.60 L432.54 225.65 L433.63 226.70 L434.73 227.76 L435.82 228.81 L436.91 229.86 L437.99 230.92 L439.08 231.97 L440.17 233.03 L441.26 234.08 L442.35 235.13 L443.44 236.19 L444.53 237.24 L445.62 238.30 L446.71 239.35 L447.79 240.41 L448.88 241.46 L449.97 242.52 L451.06 243.57 L452.14 244.63 L453.23 245.68 L454.32 246.74 L455.41 247.80 L456.49 248.85 L457.58 249.91 L458.67 250.96 L459.75 252.02 L460.84 253.07 L461.93 254.13 L463.01 255.19 L464.10 256.24 L465.18 257.30 L466.27 258.35 L467.36 259.41 L468.44 260.47 L469.53 261.52 L470.62 262.58 L471.70 263.63 L472.79 264.69 L473.87 265.74 L474.96 266.80 L476.05 267.85 L477.13 268.91 L478.22 269.96 L479.30 271.02 L480.39 272.07 L481.48 273.13 L482.56 274.18 L483.65 275.24" fill="none" stroke="rgb(255,112,112)" stroke-opacity="0.9" stroke-width="1.2" stroke-dasharray="5.6 3.8"/>
<path d="M190.50 8.09 L191.18 9.42 L192.10 10.55 L193.19 11.54 L194.41 12.42 L195.69 13.25 L196.99 14.07 L198.29 14.89 L199.58 15.72 L200.87 16.56 L202.16 17.40 L203.43 18.25 L204.71 19.10 L205.98 19.96 L207.25 20.82 L208.51 21.69 L209.76 22.56 L211.02 23.43 L212.27 24.32 L213.51 25.20 L214.75 26.09 L215.99 26.98 L217.22 27.88 L218.45 28.78 L219.68 29.69 L220.90 30.60 L222.12 31.51 L223.34 32.42 L224.55 33.34 L225.76 34.26 L226.97 35.19 L228.18 36.12 L229.38 37.05 L230.58 37.98 L231.78 38.92 L232.98 39.86 L234.17 40.80 L235.36 41.74 L236.55 42.69 L237.74 43.64 L238.93 44.59 L240.11 45.54 L241.30 46.50 L242.48 47.45 L243.66 48.41 L244.84 49.37 L246.02 50.33 L247.20 51.29 L248.37 52.25 L249.55 53.22 L250.73 54.18 L251.90 55.15 L253.08 56.11 L254.25 57.08 L255.43 58.05 L256.60 59.01 L257.78 59.98 L258.95 60.95 L260.13 61.92 L261.30 62.89 L262.48 63.86 L263.65 64.83 L264.82 65.80 L266.00 66.77 L267.17 67.74 L268.34 68.72 L269.51 69.69 L270.69 70.67 L271.86 71.64 L273.03 72.62 L274.20 73.59 L275.37 74.57 L276.54 75.55 L277.71 76.53 L278.87 77.51 L280.04 78.49 L281.21 79.47 L282.37 80.45 L283.54 81.44 L284.70 82.42 L285.87 83.41 L287.03 84.40 L288.19 85.38 L289.35 86.37 L290.51 87.36 L291.67 88.35 L292.83 89.35 L293.99 90.34 L295.15 91.33 L296.30 92.33 L297.46 93.33 L298.61 94.32 L299.76 95.32 L300.91 96.32 L302.06 97.33 L303.21 98.33 L304.36 99.33 L305.51 100.34 L306.65 101.35 L307.79 102.36 L308.94 103.37 L310.08 104.38 L311.22 105.39 L312.36 106.41 L313.49 107.42 L314.63 108.44 L315.76 109.46 L316.89 110.48 L318.02 111.51 L319.15 112.53 L320.28 113.56 L321.41 114.59 L322.53 115.62 L323.65 116.65 L324.77 117.68 L325.89 118.72 L327.01 119.75 L328.12 120.79 L329.24 121.83 L330.35 122.87 L331.46 123.92 L332.56 124.96 L333.67 126.01 L334.77 127.06 L335.88 128.12 L336.97 129.17 L338.07 130.23 L339.17 131.28 L340.26 132.34 L341.35 133.41 L342.44 134.47 L343.53 135.54 L344.61 136.61 L345.69 137.68 L346.77 138.75 L347.85 139.83 L348.93 140.91 L350.00 141.99 L483.60 275.30" fill="none" stroke="rgb(255,112,112)" stroke-opacity="0.9" stroke-width="1.2" stroke-dasharray="5.6 3.8"/>
<path d="M202.05 8.10 L202.97 9.23 L204.05 10.24 L205.22 11.16 L206.46 12.04 L207.74 12.89 L209.05 13.71 L210.36 14.54 L211.66 15.37 L212.95 16.22 L214.23 17.07 L215.50 17.94 L216.76 18.82 L218.01 19.71 L219.25 20.61 L220.48 21.51 L221.71 22.43 L222.92 23.35 L224.13 24.28 L225.33 25.22 L226.53 26.16 L227.72 27.11 L228.91 28.07 L230.09 29.02 L231.27 29.99 L232.45 30.95 L233.62 31.92 L234.79 32.89 L235.96 33.87 L237.13 34.84 L238.30 35.82 L239.47 36.80 L240.64 37.77 L241.81 38.75 L242.98 39.72 L244.15 40.70 L245.33 41.68 L246.50 42.66 L247.67 43.63 L248.85 44.61 L250.02 45.59 L251.19 46.57 L252.36 47.55 L253.53 48.53 L254.70 49.52 L255.87 50.50 L257.04 51.49 L258.21 52.48 L259.38 53.46 L260.54 54.46 L261.71 55.45 L262.87 56.44 L264.03 57.44 L265.19 58.44 L266.35 59.44 L267.50 60.44 L268.66 61.44 L269.81 62.45 L270.95 63.46 L272.10 64.47 L273.24 65.49 L274.38 66.51 L275.52 67.53 L276.65 68.56 L277.78 69.58 L278.91 70.62 L280.04 71.65 L281.16 72.69 L282.27 73.73 L283.39 74.78 L284.50 75.83 L285.60 76.88 L286.70 77.94 L287.80 79.00 L288.89 80.07 L289.98 81.14 L291.06 82.21 L292.14 83.29 L293.21 84.38 L294.28 85.47" fill="none" stroke="rgb(255,112,112)" stroke-opacity="0.9" stroke-width="1.2" stroke-dasharray="5.6 3.8"/>
<path d="M206.92 8.13 L208.04 9.12 L209.19 10.08 L210.36 11.03 L211.55 11.97 L212.75 12.91 L213.96 13.83 L215.19 14.75 L216.42 15.67 L217.65 16.59 L218.90 17.50 L220.15 18.41 L221.40 19.32 L222.65 20.23 L223.91 21.14 L225.17 22.06 L226.42 22.97 L227.67 23.89 L228.92 24.82 L230.17 25.75 L231.41 26.68 L232.64 27.62 L233.87 28.57 L235.08 29.53 L236.29 30.49 L237.50 31.46 L238.69 32.44 L239.88 33.42 L241.06 34.41 L242.24 35.40 L243.41 36.40 L244.58 37.41 L245.74 38.42 L246.89 39.43 L248.05 40.45 L249.19 41.48 L250.34 42.50 L251.48 43.54 L252.62 44.57 L253.75 45.61 L254.89 46.65 L256.02 47.69 L257.15 48.73 L258.28 49.78 L259.41 50.83 L260.53 51.88 L261.66 52.93 L262.79 53.98 L263.91 55.03 L265.04 56.09 L266.17 57.14 L267.30 58.19 L268.43 59.25 L269.56 60.30 L270.70 61.35" fill="none" stroke="rgb(255,112,112)" stroke-opacity="0.9" stroke-width="1.2" stroke-dasharray="5.6 3.8"/>
<path d="M210.58 8.12 L211.80 9.07 L213.04 10.03 L214.28 10.99 L215.52 11.94 L216.77 12.90 L218.02 13.86 L219.27 14.81 L220.53 15.77 L221.79 16.74 L223.05 17.70 L224.30 18.67 L225.56 19.64 L226.82 20.61 L228.08 21.59 L229.33 22.57 L230.58 23.56 L231.83 24.55 L233.07 25.55 L234.31 26.55 L235.54 27.56 L236.77 28.57 L237.99 29.59 L239.21 30.62 L240.41 31.66 L241.61 32.70 L242.80 33.76 L243.98 34.82 L245.15 35.89 L246.30 36.97 L247.45 38.06 L248.59 39.16 L249.71 40.27 L250.82 41.39 L251.91 42.52 L252.99 43.67" fill="none" stroke="rgb(255,112,112)" stroke-opacity="0.9" stroke-width="1.2" stroke-dasharray="5.6 3.8"/>
<path d="M213.05 8.08 L214.30 9.05 L215.55 10.02 L216.82 10.99 L218.09 11.96 L219.36 12.93 L220.63 13.91 L221.91 14.89 L223.19 15.87 L224.46 16.86 L225.73 17.86 L227.00 18.86 L228.26 19.87 L229.52 20.89 L230.76 21.92 L232.00 22.96 L233.22 24.01 L234.43 25.08 L235.62 26.16 L236.80 27.25 L237.96 28.36 L239.11 29.48 L240.23 30.62 L241.33 31.78" fill="none" stroke="rgb(255,112,112)" stroke-opacity="0.9" stroke-width="1.2" stroke-dasharray="5.6 3.8"/>
<path d="M214.70 8.05 L215.53 8.70 L216.37 9.35 L217.21 9.99 L218.06 10.64 L218.91 11.29 L219.76 11.94 L220.61 12.59 L221.46 13.25 L222.31 13.91 L223.16 14.57 L224.00 15.24 L224.84 15.91 L225.68 16.59 L226.51 17.28 L227.33 17.97 L228.15 18.68 L228.95 19.39 L229.75 20.10 L230.54 20.83 L231.31 21.57 L232.07 22.32 L232.82 23.08 L233.55 23.85" fill="none" stroke="rgb(255,112,112)" stroke-opacity="0.9" stroke-width="1.2" stroke-dasharray="5.6 3.8"/>
<line x1="218.20" y1="7.90" x2="218.20" y2="338.30" stroke="#000" stroke-opacity="0.27" stroke-width="1"/>
<path d="M218.00 8.00 L451.76 338.30 L483.50 338.30 L483.50 273.20 Z" fill="#000" fill-opacity="0.2"/>
<path d="M218.20 7.90 L483.50 273.20 L483.50 7.90 Z" fill="#a46060"/>
<line x1="219.50" y1="10.12" x2="451.76" y2="338.30" stroke="#000" stroke-width="1.7" stroke-linecap="round" stroke-dasharray="0 6.15"/>
<line x1="220.20" y1="9.90" x2="483.50" y2="273.20" stroke="#000" stroke-width="1.7" stroke-linecap="round" stroke-dasharray="0 6.15"/>
<defs><clipPath id="c2"><rect x="300" y="214" width="200" height="130"/></clipPath></defs>
<g clip-path="url(#c2)">
<path d="M303.84 166.05 L304.93 167.10 L305.99 168.18 L307.02 169.29 L308.03 170.42 L309.02 171.57 L309.99 172.73 L310.94 173.91 L311.89 175.09 L312.83 176.29 L313.76 177.49 L314.69 178.69 L315.62 179.89 L316.55 181.10 L317.48 182.31 L318.41 183.51 L319.34 184.72 L320.27 185.92 L321.20 187.12 L322.14 188.32 L323.09 189.51 L324.03 190.70 L324.99 191.89 L325.94 193.08 L326.90 194.26 L327.86 195.43 L328.83 196.61 L329.80 197.78 L330.77 198.95 L331.74 200.12 L332.72 201.29 L333.70 202.45 L334.68 203.61 L335.67 204.77 L336.65 205.92 L337.64 207.08 L338.63 208.23 L339.63 209.38 L340.62 210.54 L341.62 211.68 L342.61 212.83 L343.61 213.98 L344.61 215.13 L345.61 216.27 L346.61 217.41 L347.61 218.56 L348.62 219.70 L349.62 220.84 L350.62 221.99 L351.63 223.13 L352.63 224.27 L353.63 225.41 L354.64 226.56 L355.64 227.70 L356.64 228.84 L357.64 229.99 L358.64 231.13 L359.64 232.28 L360.64 233.42 L361.63 234.57 L362.63 235.72 L363.62 236.87 L364.62 238.02 L365.61 239.17 L366.60 240.32 L367.58 241.48 L368.57 242.64 L369.55 243.80 L370.53 244.96 L371.50 246.12 L372.48 247.29 L373.45 248.46 L374.42 249.63 L375.38 250.80 L376.34 251.97 L377.30 253.15 L378.26 254.33 L379.22 255.51 L380.17 256.70 L381.12 257.88 L382.06 259.07 L383.01 260.26 L383.95 261.45 L384.89 262.65 L385.83 263.84 L386.77 265.04 L387.71 266.23 L388.64 267.43 L389.57 268.63 L390.50 269.84 L391.43 271.04 L392.36 272.24 L393.29 273.45 L394.21 274.65 L395.14 275.86 L396.06 277.07 L396.98 278.27 L397.91 279.48 L398.83 280.69 L399.75 281.90 L400.67 283.11 L401.59 284.32 L402.51 285.53 L403.43 286.74 L404.35 287.95 L405.27 289.16 L406.19 290.37 L407.11 291.58 L408.03 292.80 L408.95 294.01 L409.87 295.22 L410.80 296.42 L411.72 297.63 L412.64 298.84 L413.57 300.05 L414.49 301.26 L415.42 302.46 L416.34 303.67 L417.27 304.87 L418.20 306.07 L419.13 307.28 L420.07 308.48 L421.00 309.68 L421.94 310.88 L422.87 312.07 L423.81 313.27 L424.75 314.46 L425.70 315.65 L426.64 316.84 L427.59 318.03 L428.54 319.22 L429.49 320.40 L430.45 321.59 L431.40 322.77 L432.37 323.95 L433.33 325.12 L434.29 326.30 L435.26 327.47 L436.23 328.64 L437.21 329.81 L438.19 330.97 L439.17 332.13 L440.15 333.29 L441.14 334.45 L442.13 335.60 L443.13 336.75 L444.13 337.90" fill="none" stroke="#0aa20a" stroke-width="1.15"/>
<path d="M311.15 171.52 L312.37 172.44 L313.57 173.37 L314.76 174.33 L315.93 175.30 L317.09 176.28 L318.23 177.29 L319.36 178.30 L320.47 179.34 L321.57 180.38 L322.66 181.44 L323.73 182.51 L324.80 183.60 L325.86 184.69 L326.90 185.80 L327.94 186.91 L328.97 188.03 L329.99 189.16 L331.00 190.30 L332.01 191.44 L333.02 192.59 L334.01 193.75 L335.01 194.91 L336.00 196.07 L336.98 197.24 L337.97 198.40 L338.95 199.57 L339.93 200.74 L340.91 201.91 L341.89 203.09 L342.87 204.26 L343.85 205.43 L344.82 206.61 L345.80 207.78 L346.77 208.96 L347.75 210.13 L348.72 211.31 L349.69 212.49 L350.66 213.66 L351.63 214.84 L352.59 216.02 L353.56 217.20 L354.53 218.39 L355.49 219.57 L356.45 220.75 L357.41 221.93 L358.38 223.12 L359.33 224.30 L360.29 225.49 L361.25 226.68 L362.21 227.87 L363.16 229.05 L364.12 230.24 L365.07 231.43 L366.02 232.62 L366.97 233.82 L367.92 235.01 L368.87 236.20 L369.82 237.40 L370.76 238.59 L371.71 239.79 L372.65 240.98 L373.59 242.18 L374.54 243.38 L375.48 244.58 L376.41 245.78 L377.35 246.98 L378.29 248.18 L379.22 249.38 L380.16 250.59 L381.09 251.79 L382.02 253.00 L382.95 254.20 L383.88 255.41 L384.81 256.62 L385.74 257.83 L386.66 259.04 L387.59 260.25 L388.51 261.46 L389.43 262.67 L390.35 263.88 L391.27 265.10 L392.19 266.31 L393.11 267.53 L394.02 268.74 L394.94 269.96 L395.85 271.18 L396.76 272.40 L397.68 273.62 L398.59 274.84 L399.50 276.06 L400.40 277.29 L401.31 278.51 L402.22 279.73 L403.13 280.95 L404.03 282.18 L404.94 283.40 L405.85 284.62 L406.75 285.85 L407.66 287.07 L408.57 288.30 L409.47 289.52 L410.38 290.74 L411.29 291.96 L412.20 293.19 L413.11 294.41 L414.02 295.63 L414.93 296.85 L415.84 298.07 L416.75 299.29 L417.67 300.51 L418.58 301.72 L419.50 302.94 L420.42 304.15 L421.34 305.37 L422.26 306.58 L423.18 307.80 L424.10 309.01 L425.02 310.22 L425.95 311.43 L426.87 312.64 L427.80 313.85 L428.73 315.06 L429.65 316.27 L430.58 317.48 L431.51 318.69 L432.44 319.89 L433.37 321.10 L434.30 322.31 L435.24 323.51 L436.17 324.72 L437.10 325.92 L438.03 327.13 L438.97 328.33 L439.90 329.54 L440.83 330.74 L441.77 331.95 L442.70 333.15 L443.64 334.36 L444.57 335.56 L445.51 336.76 L446.44 337.97" fill="none" stroke="#0aa20a" stroke-width="1.15"/>
<path d="M332.60 187.86 L333.65 188.95 L334.70 190.04 L335.74 191.14 L336.78 192.25 L337.81 193.35 L338.84 194.47 L339.87 195.58 L340.89 196.70 L341.90 197.83 L342.92 198.95 L343.92 200.09 L344.93 201.22 L345.93 202.36 L346.92 203.50 L347.91 204.65 L348.90 205.80 L349.89 206.95 L350.87 208.11 L351.84 209.27 L352.82 210.43 L353.79 211.60 L354.76 212.77 L355.72 213.94 L356.68 215.11 L357.64 216.29 L358.59 217.47 L359.54 218.65 L360.49 219.84 L361.44 221.03 L362.38 222.22 L363.32 223.41 L364.26 224.61 L365.20 225.80 L366.13 227.00 L367.06 228.20 L367.99 229.40 L368.92 230.61 L369.84 231.82 L370.77 233.02 L371.69 234.23 L372.61 235.44 L373.52 236.66 L374.44 237.87 L375.35 239.09 L376.27 240.30 L377.18 241.52 L378.09 242.74 L378.99 243.96 L379.90 245.18 L380.81 246.40 L381.71 247.62 L382.62 248.85 L383.52 250.07 L384.42 251.29 L385.32 252.52 L386.22 253.74 L387.12 254.97 L388.02 256.19 L388.92 257.42 L389.82 258.65 L390.72 259.88 L391.61 261.10 L392.51 262.33 L393.40 263.56 L394.30 264.79 L395.19 266.02 L396.09 267.25 L396.98 268.48 L397.87 269.71 L398.77 270.94 L399.66 272.16 L400.55 273.39 L401.44 274.62 L402.34 275.85 L403.23 277.08 L404.12 278.31 L405.01 279.54 L405.91 280.77 L406.80 282.00 L407.69 283.23 L408.58 284.46 L409.48 285.69 L410.37 286.92 L411.26 288.15 L412.16 289.38 L413.05 290.60 L413.94 291.83 L414.84 293.06 L415.73 294.28 L416.63 295.51 L417.53 296.74 L418.42 297.96 L419.32 299.19 L420.22 300.41 L421.12 301.63 L422.02 302.86 L422.92 304.08 L423.82 305.30 L424.72 306.52 L425.62 307.74 L426.52 308.96 L427.43 310.18 L428.33 311.40 L429.24 312.61 L430.15 313.83 L431.06 315.04 L431.97 316.26 L432.88 317.47 L433.79 318.68 L434.70 319.90 L435.62 321.11 L436.54 322.31 L437.45 323.52 L438.37 324.73 L439.29 325.93 L440.21 327.14 L441.14 328.34 L442.06 329.54 L442.99 330.74 L443.92 331.94 L444.85 333.14 L445.78 334.34 L446.71 335.53 L447.65 336.73 L448.59 337.92" fill="none" stroke="#0aa20a" stroke-width="1.15"/>
<path d="M341.70 194.94 L342.74 196.05 L343.77 197.17 L344.79 198.29 L345.81 199.42 L346.83 200.55 L347.85 201.68 L348.86 202.81 L349.86 203.95 L350.86 205.10 L351.86 206.24 L352.86 207.39 L353.85 208.54 L354.83 209.70 L355.82 210.85 L356.80 212.02 L357.77 213.18 L358.75 214.35 L359.71 215.52 L360.68 216.69 L361.64 217.86 L362.60 219.04 L363.56 220.22 L364.51 221.41 L365.46 222.59 L366.41 223.78 L367.36 224.97 L368.30 226.16 L369.24 227.36 L370.17 228.56 L371.11 229.76 L372.04 230.96 L372.96 232.16 L373.89 233.37 L374.81 234.58 L375.74 235.79 L376.65 237.00 L377.57 238.21 L378.49 239.43 L379.40 240.64 L380.31 241.86 L381.22 243.08 L382.12 244.31 L383.03 245.53 L383.93 246.75 L384.83 247.98 L385.73 249.21 L386.63 250.44 L387.53 251.67 L388.42 252.90 L389.32 254.13 L390.21 255.37 L391.10 256.60 L391.99 257.84 L392.88 259.07 L393.76 260.31 L394.65 261.55 L395.54 262.79 L396.42 264.03 L397.30 265.27 L398.19 266.51 L399.07 267.76 L399.95 269.00 L400.83 270.24 L401.71 271.49 L402.59 272.73 L403.47 273.97 L404.35 275.22 L405.23 276.46 L406.11 277.71 L406.98 278.95 L407.86 280.20 L408.74 281.44 L409.62 282.69 L410.49 283.93 L411.37 285.18 L412.25 286.42 L413.13 287.67 L414.01 288.91 L414.89 290.15 L415.77 291.40 L416.65 292.64 L417.53 293.88 L418.41 295.12 L419.29 296.37 L420.17 297.61 L421.06 298.85 L421.94 300.08 L422.82 301.32 L423.71 302.56 L424.60 303.80 L425.49 305.03 L426.37 306.27 L427.26 307.50 L428.16 308.73 L429.05 309.96 L429.94 311.19 L430.84 312.42 L431.74 313.65 L432.64 314.87 L433.54 316.10 L434.44 317.32 L435.34 318.54 L436.25 319.76 L437.15 320.98 L438.06 322.20 L438.98 323.41 L439.89 324.62 L440.80 325.83 L441.72 327.04 L442.64 328.25 L443.56 329.46 L444.49 330.66 L445.42 331.86 L446.34 333.06 L447.28 334.25 L448.21 335.45 L449.15 336.64 L450.09 337.83" fill="none" stroke="#0aa20a" stroke-width="1.15"/>
<path d="M348.09 199.97 L349.09 201.12 L350.10 202.27 L351.09 203.42 L352.09 204.58 L353.08 205.74 L354.07 206.90 L355.06 208.06 L356.04 209.23 L357.02 210.40 L357.99 211.57 L358.97 212.74 L359.94 213.92 L360.90 215.09 L361.87 216.27 L362.83 217.46 L363.79 218.64 L364.74 219.83 L365.70 221.02 L366.65 222.21 L367.60 223.41 L368.54 224.60 L369.48 225.80 L370.42 227.00 L371.36 228.20 L372.30 229.40 L373.23 230.61 L374.16 231.82 L375.09 233.03 L376.02 234.24 L376.94 235.45 L377.87 236.66 L378.79 237.88 L379.71 239.10 L380.62 240.32 L381.54 241.54 L382.45 242.76 L383.36 243.98 L384.27 245.21 L385.18 246.43 L386.09 247.66 L386.99 248.89 L387.90 250.12 L388.80 251.35 L389.70 252.58 L390.60 253.81 L391.50 255.04 L392.39 256.28 L393.29 257.51 L394.18 258.75 L395.08 259.99 L395.97 261.23 L396.86 262.47 L397.75 263.71 L398.64 264.95 L399.53 266.19 L400.42 267.43 L401.31 268.67 L402.19 269.91 L403.08 271.16 L403.96 272.40 L404.85 273.65 L405.73 274.89 L406.62 276.14 L407.50 277.38 L408.38 278.63 L409.27 279.87 L410.15 281.12 L411.03 282.36 L411.91 283.61 L412.79 284.86 L413.68 286.10 L414.56 287.35 L415.44 288.59 L416.32 289.84 L417.20 291.08 L418.09 292.33 L418.97 293.58 L419.85 294.82 L420.74 296.06 L421.62 297.31 L422.50 298.55 L423.39 299.80 L424.27 301.04 L425.16 302.28 L426.05 303.52 L426.93 304.76 L427.82 306.00 L428.71 307.24 L429.60 308.48 L430.49 309.72 L431.38 310.96 L432.27 312.19 L433.17 313.43 L434.06 314.66 L434.96 315.90 L435.85 317.13 L436.75 318.36 L437.65 319.59 L438.55 320.82 L439.45 322.05 L440.36 323.28 L441.26 324.50 L442.17 325.73 L443.08 326.95 L443.99 328.17 L444.90 329.39 L445.81 330.61 L446.73 331.83 L447.64 333.04 L448.56 334.26 L449.48 335.47 L450.40 336.68 L451.33 337.89" fill="none" stroke="#0aa20a" stroke-width="1.15"/>
</g>
</g>
<path d="M52.60 338.30 v-1.70 M52.60 7.90 v1.70 M69.13 338.30 v-1.70 M69.13 7.90 v1.70 M85.67 338.30 v-3.20 M85.67 7.90 v3.20 M102.21 338.30 v-1.70 M102.21 7.90 v1.70 M118.74 338.30 v-1.70 M118.74 7.90 v1.70 M135.28 338.30 v-1.70 M135.28 7.90 v1.70 M151.81 338.30 v-3.20 M151.81 7.90 v3.20 M168.34 338.30 v-1.70 M168.34 7.90 v1.70 M184.88 338.30 v-1.70 M184.88 7.90 v1.70 M201.41 338.30 v-1.70 M201.41 7.90 v1.70 M217.95 338.30 v-3.20 M217.95 7.90 v3.20 M234.49 338.30 v-1.70 M234.49 7.90 v1.70 M251.02 338.30 v-1.70 M251.02 7.90 v1.70 M267.56 338.30 v-1.70 M267.56 7.90 v1.70 M284.09 338.30 v-3.20 M284.09 7.90 v3.20 M300.62 338.30 v-1.70 M300.62 7.90 v1.70 M317.16 338.30 v-1.70 M317.16 7.90 v1.70 M333.70 338.30 v-1.70 M333.70 7.90 v1.70 M350.23 338.30 v-3.20 M350.23 7.90 v3.20 M366.77 338.30 v-1.70 M366.77 7.90 v1.70 M383.30 338.30 v-1.70 M383.30 7.90 v1.70 M399.84 338.30 v-1.70 M399.84 7.90 v1.70 M416.37 338.30 v-3.20 M416.37 7.90 v3.20 M432.91 338.30 v-1.70 M432.91 7.90 v1.70 M449.44 338.30 v-1.70 M449.44 7.90 v1.70 M465.98 338.30 v-1.70 M465.98 7.90 v1.70 M482.51 338.30 v-3.20 M482.51 7.90 v3.20 M52.60 7.90 h3.20 M482.50 7.90 h-3.20 M52.60 24.42 h1.70 M482.50 24.42 h-1.70 M52.60 40.94 h1.70 M482.50 40.94 h-1.70 M52.60 57.46 h1.70 M482.50 57.46 h-1.70 M52.60 73.98 h3.20 M482.50 73.98 h-3.20 M52.60 90.50 h1.70 M482.50 90.50 h-1.70 M52.60 107.02 h1.70 M482.50 107.02 h-1.70 M52.60 123.54 h1.70 M482.50 123.54 h-1.70 M52.60 140.06 h3.20 M482.50 140.06 h-3.20 M52.60 156.58 h1.70 M482.50 156.58 h-1.70 M52.60 173.10 h1.70 M482.50 173.10 h-1.70 M52.60 189.62 h1.70 M482.50 189.62 h-1.70 M52.60 206.14 h3.20 M482.50 206.14 h-3.20 M52.60 222.66 h1.70 M482.50 222.66 h-1.70 M52.60 239.18 h1.70 M482.50 239.18 h-1.70 M52.60 255.70 h1.70 M482.50 255.70 h-1.70 M52.60 272.22 h3.20 M482.50 272.22 h-3.20 M52.60 288.74 h1.70 M482.50 288.74 h-1.70 M52.60 305.26 h1.70 M482.50 305.26 h-1.70 M52.60 321.78 h1.70 M482.50 321.78 h-1.70 M52.60 338.30 h3.20 M482.50 338.30 h-3.20" stroke="#666" stroke-width="0.8" fill="none"/>
<rect x="52.60" y="7.90" width="429.90" height="330.40" fill="none" stroke="#666" stroke-width="0.9"/>
<g font-size="12.0" fill="#666">
<text x="80.47" y="354.9" text-anchor="end">−</text>
<text x="81.97" y="354.9" text-anchor="start">0.4</text>
<text x="146.61" y="354.9" text-anchor="end">−</text>
<text x="148.11" y="354.9" text-anchor="start">0.2</text>
<text x="217.95" y="354.9" text-anchor="middle">0.0</text>
<text x="284.09" y="354.9" text-anchor="middle">0.2</text>
<text x="350.23" y="354.9" text-anchor="middle">0.4</text>
<text x="416.37" y="354.9" text-anchor="middle">0.6</text>
<text x="482.51" y="354.9" text-anchor="middle">0.8</text>
<text x="48.9" y="13.15" text-anchor="end">0.0</text>
<text x="48.9" y="79.23" text-anchor="end">0.2</text>
<text x="30.6" y="79.58" text-anchor="end">−</text>
<text x="48.9" y="145.31" text-anchor="end">0.4</text>
<text x="30.6" y="145.66" text-anchor="end">−</text>
<text x="48.9" y="211.39" text-anchor="end">0.6</text>
<text x="30.6" y="211.74" text-anchor="end">−</text>
<text x="48.9" y="277.47" text-anchor="end">0.8</text>
<text x="30.6" y="277.82" text-anchor="end">−</text>
<text x="48.9" y="343.55" text-anchor="end">1.0</text>
<text x="30.6" y="343.90" text-anchor="end">−</text>
<text x="153.7" y="375.8" font-size="12.2" textLength="214.9" lengthAdjust="spacing">Inverse scattering length 1/<tspan font-style="italic">a</tspan> (units of Λ</text>
<text x="368.8" y="379.2" font-size="10.4">3</text>
<text x="377.6" y="375.8" font-size="12.2">)</text>
<text transform="translate(13.1 273.5) rotate(-90)" font-size="12.2" textLength="186.5" lengthAdjust="spacing">Binding wave number k (units of Λ</text>
<text transform="translate(16.5 85.6) rotate(-90)" font-size="10.4">3</text>
<text transform="translate(13.1 77.2) rotate(-90)" font-size="12.2">)</text>
</g>
<rect x="88.2" y="275.1" width="47.3" height="26.9" fill="#fff" stroke="#111" stroke-width="1"/>
<g font-size="11.4" fill="#111"><text x="94.4" y="293.4" font-style="italic">a</text><text x="100.8" y="296.8" font-style="italic" font-size="9.9">B</text><text x="113.1" y="293.4">=</text><text x="124.5" y="293.4">0</text></g>
</svg>
</body></html>
